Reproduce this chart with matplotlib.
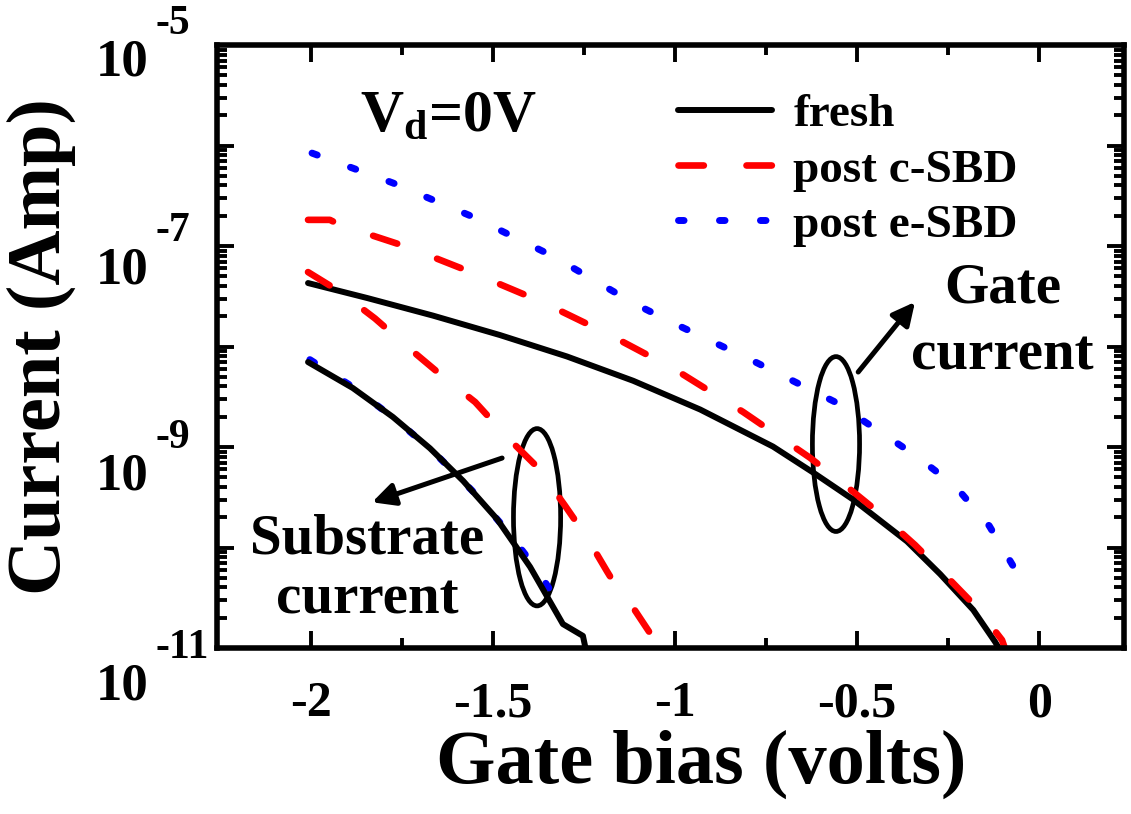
import numpy as np
import matplotlib
matplotlib.use("Agg")
import matplotlib.pyplot as plt
import matplotlib.transforms as mtransforms
from matplotlib.patches import Ellipse
from matplotlib.ticker import LogLocator, FixedLocator, FixedFormatter, NullFormatter

plt.rcParams['font.family'] = ['Liberation Serif', 'DejaVu Serif']
plt.rcParams['font.weight'] = 'bold'
plt.rcParams['mathtext.fontset'] = 'custom'
plt.rcParams['mathtext.rm'] = 'Liberation Serif:bold'
plt.rcParams['mathtext.it'] = 'Liberation Serif:bold'
plt.rcParams['mathtext.bf'] = 'Liberation Serif:bold'
plt.rcParams['mathtext.sf'] = 'Liberation Serif:bold'
plt.rcParams['axes.unicode_minus'] = False

# ---------------- data ----------------
# Gate current
gate_fresh_v = [-2.008, -1.846, -1.665, -1.481, -1.297, -1.115, -0.931, -0.731, -0.621,
                -0.511, -0.363, -0.272, -0.181, -0.121, -0.107]
gate_fresh_i = [4.28e-8, 3.04e-8, 2.03e-8, 1.30e-8, 7.96e-9, 4.56e-9, 2.36e-9, 1.01e-9, 5.58e-10,
                3.0e-10, 1.15e-10, 5.44e-11, 2.39e-11, 1.15e-11, 9.5e-12]

gate_c_v = [-2.008, -1.948, -1.920, -1.736, -1.555, -1.365, -1.184, -1.000, -0.813, -0.629,
            -0.527, -0.442, -0.341, -0.264, -0.170, -0.102, -0.090]
gate_c_i = [1.82e-7, 1.82e-7, 1.62e-7, 9.8e-8, 5.4e-8, 2.77e-8, 1.33e-8, 5.9e-9, 2.23e-9, 7.8e-10,
            4.0e-10, 2.25e-10, 1.06e-10, 5.6e-11, 2.5e-11, 1.2e-11, 9.0e-12]

gate_e_v = [-1.997, -1.775, -1.555, -1.335, -1.115, -1.005, -0.786, -0.560, -0.341, -0.231,
            -0.137, -0.071]
gate_e_i = [8.4e-7, 4.24e-7, 1.95e-7, 7.9e-8, 2.71e-8, 1.71e-8, 7.2e-9, 2.8e-9, 8.3e-10, 4.1e-10,
            1.64e-10, 6.5e-11]

# Substrate current
sub_fresh_v = [-2.008, -1.885, -1.775, -1.673, -1.582, -1.489, -1.398, -1.308, -1.253, -1.247, -1.239]
sub_fresh_i = [7.0e-9, 3.86e-9, 1.99e-9, 9.7e-10, 4.6e-10, 1.92e-10, 6.4e-11, 1.73e-11, 1.32e-11,
               1.04e-11, 8.6e-12]

sub_c_v = [-2.008, -1.920, -1.824, -1.736, -1.637, -1.549, -1.459, -1.376, -1.302, -1.242,
           -1.187, -1.150, -1.129, -1.060, -1.050]
sub_c_i = [5.5e-8, 3.5e-8, 1.9e-8, 1.0e-8, 5.0e-9, 2.8e-9, 1.23e-9, 6.2e-10, 2.6e-10, 1.26e-10,
           5.8e-11, 3.5e-11, 3.0e-11, 1.26e-11, 9.0e-12]

sub_e_v = [-2.003, -1.887, -1.777, -1.668, -1.558, -1.462, -1.379, -1.308]
sub_e_i = [7.4e-9, 4.0e-9, 2.0e-9, 9.3e-10, 3.7e-10, 1.48e-10, 6.0e-11, 2.4e-11]

series_labels = ['fresh', 'post c-SBD', 'post e-SBD']
x_ticks = [-2, -1.5, -1, -0.5, 0]
x_tick_labels = ['-2', '-1.5', '-1', '-0.5', '0']
x_minor = [-1.75, -1.25, -0.75, -0.25]
y_major = [1e-11, 1e-10, 1e-9, 1e-8, 1e-7, 1e-6, 1e-5]
y_label_vals = [1e-5, 1e-7, 1e-9, 1e-11]
y_label_exps = ['-5', '-7', '-9', '-11']

# ---------------- figure ----------------
fig = plt.figure(figsize=(11.31, 8.14), dpi=100)
ax = fig.add_axes([217/1131, 1 - 648/814, (1124-217)/1131, (648-45)/814])
ax.set_yscale('log')
ax.set_xlim(-2.258, 0.233)
ax.set_ylim(1e-11, 1e-5)

lw_k = 4.3
lw_r = 4.8
lw_b = 5.0
dash_c = (3.8, 6.4)
dot_e = (0.8, 5.1)

# draw order: blue, black, red
ax.plot(sub_e_v, sub_e_i, color='#0000ff', lw=lw_b, dashes=dot_e, dash_capstyle='round')
l_e, = ax.plot(gate_e_v, gate_e_i, color='#0000ff', lw=lw_b, dashes=dot_e,
               dash_capstyle='round', label=series_labels[2])
l_f, = ax.plot(gate_fresh_v, gate_fresh_i, color='k', lw=lw_k, solid_joinstyle='round',
               solid_capstyle='round', label=series_labels[0])
ax.plot(sub_fresh_v, sub_fresh_i, color='k', lw=lw_k, solid_joinstyle='round', solid_capstyle='round')
l_c, = ax.plot(gate_c_v, gate_c_i, color='#ff0000', lw=lw_r, dashes=dash_c,
               dash_capstyle='round', label=series_labels[1])
ax.plot(sub_c_v, sub_c_i, color='#ff0000', lw=lw_r, dashes=dash_c, dash_capstyle='round')

# ---------------- axes styling ----------------
for s in ax.spines.values():
    s.set_linewidth(4.0)

ax.xaxis.set_major_locator(FixedLocator(x_ticks))
ax.xaxis.set_major_formatter(FixedFormatter(x_tick_labels))
ax.xaxis.set_minor_locator(FixedLocator(x_minor))
ax.yaxis.set_major_locator(FixedLocator(y_major))
ax.yaxis.set_major_formatter(NullFormatter())
ax.yaxis.set_minor_locator(LogLocator(base=10, subs=np.arange(2, 10), numticks=20))
ax.yaxis.set_minor_formatter(NullFormatter())

ax.tick_params(which='both', direction='in', top=True, right=True, width=2.8)
ax.tick_params(which='major', length=12)
ax.tick_params(which='minor', length=7)
ax.tick_params(axis='x', which='major', labelsize=36, pad=24)
for lab in ax.get_xticklabels():
    lab.set_fontweight('bold')

# y tick labels drawn as "10" with a raised exponent
yblend = mtransforms.blended_transform_factory(ax.transAxes, ax.transData)
base_drop_px = [31, 37, 43, 52]
for val, ex, dpx in zip(y_label_vals, y_label_exps, base_drop_px):
    tr = yblend + mtransforms.ScaledTranslation(0, -dpx / 100.0, fig.dpi_scale_trans)
    ax.text(-0.076, val, '10', transform=tr, fontsize=38, fontweight='bold',
            ha='right', va='baseline', clip_on=False)
    tr2 = yblend + mtransforms.ScaledTranslation(0, -(dpx - 42) / 100.0, fig.dpi_scale_trans)
    ax.text(-0.068, val, ex, transform=tr2, fontsize=30, fontweight='bold',
            ha='left', va='baseline', clip_on=False)

ax.set_xlabel('Gate bias (volts)', fontsize=55, fontweight='bold')
ax.set_ylabel('Current (Amp)', fontsize=55, fontweight='bold')
ax.xaxis.set_label_coords(0.534, -0.135)
ax.yaxis.set_label_coords(-0.155, 0.5)

# ---------------- legend ----------------
leg = ax.legend(handles=[l_f, l_c, l_e], loc='upper left', bbox_to_anchor=(0.508, 0.92),
                frameon=False, fontsize=34, handlelength=2.0, handletextpad=0.45,
                labelspacing=0.26, borderpad=0, borderaxespad=0)
for t in leg.get_texts():
    t.set_fontweight('bold')

# ---------------- annotations ----------------
ax.text(-1.865, 10**-5.85, r'V$_{\mathrm{d}}$=0V', fontsize=43, fontweight='bold',
        ha='left', va='baseline')


def axes_pt(xv, yv):
    d = ax.transData.transform((xv, yv))
    return ax.transAxes.inverted().transform(d)


for (cx, cy, w, h) in [(-1.379, 2.0e-10, 0.052, 0.294), (-0.558, 1.07e-9, 0.052, 0.290)]:
    c = axes_pt(cx, cy)
    ax.add_patch(Ellipse(c, w, h, transform=ax.transAxes, fill=False, ec='k', lw=3.4))

ax.annotate('', xy=(-1.832, 10**-9.55), xytext=(-1.475, 10**-9.11),
            arrowprops=dict(arrowstyle='-|>', lw=3.6, color='k', mutation_scale=34,
                            shrinkA=0, shrinkB=0))
ax.annotate('', xy=(-0.341, 10**-7.557), xytext=(-0.497, 10**-8.254),
            arrowprops=dict(arrowstyle='-|>', lw=3.6, color='k', mutation_scale=34,
                            shrinkA=0, shrinkB=0))

ax.text(-1.846, 10**-10.22, 'Substrate\ncurrent', fontsize=41, fontweight='bold',
        ha='center', va='center', linespacing=1.2, multialignment='center')
ax.text(-0.101, 10**-7.76, 'Gate\ncurrent', fontsize=41, fontweight='bold',
        ha='center', va='center', linespacing=1.38, multialignment='center')

fig.savefig('out.png', dpi=100)
